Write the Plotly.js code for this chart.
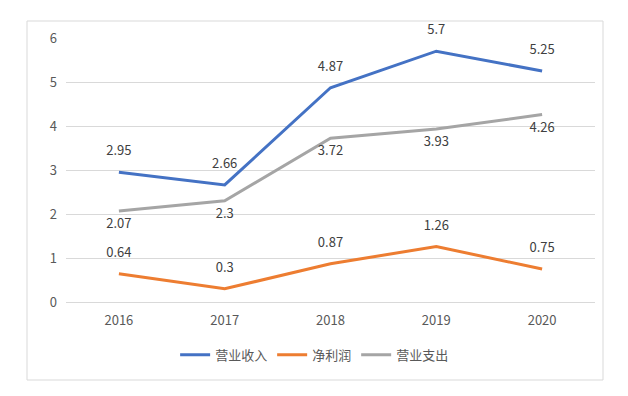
<!DOCTYPE html>
<html>
<head>
<meta charset="utf-8">
<script src="https://cdn.plot.ly/plotly-3.0.1.min.js"></script>
<style>html,body{margin:0;padding:0;background:#fff;}#chart{width:628px;height:396px;}</style>
</head>
<body>
<div id="chart"></div>
<script>
var years = ['2016', '2017', '2018', '2019', '2020'];
var revenue = [2.95, 2.66, 4.87, 5.7, 5.25];
var netProfit = [0.64, 0.3, 0.87, 1.26, 0.75];
var expense = [2.07, 2.3, 3.72, 3.93, 4.26];
var names = ['营业收入', '净利润', '营业支出'];
var colors = ['#4472C4', '#ED7D31', '#A5A5A5'];
var series = [revenue, netProfit, expense];
var labelPos = ['top center', 'top center', 'bottom center'];
var labelGap = [20, 20, 10];

var font = '"Microsoft YaHei", "Noto Sans CJK SC", sans-serif';
var traces = series.map(function (vals, i) {
  return {
    x: years, y: vals, type: 'scatter', mode: 'lines', name: names[i],
    line: {color: colors[i], width: 3}, hoverinfo: 'none'
  };
});
series.forEach(function (vals, i) {
  traces.push({
    x: years, y: vals, type: 'scatter', mode: 'markers+text', showlegend: false,
    text: vals.map(String), textposition: labelPos[i],
    textfont: {family: font, size: 13, color: '#404040'},
    marker: {size: labelGap[i], opacity: 0}, hoverinfo: 'none', cliponaxis: false
  });
});

var layout = {
  width: 628, height: 396,
  margin: {l: 66, r: 33, t: 38, b: 94},
  paper_bgcolor: '#ffffff', plot_bgcolor: '#ffffff',
  font: {family: font, size: 12, color: '#595959'},
  showlegend: true,
  legend: {orientation: 'h', x: 0.47, xanchor: 'center', y: -0.2, yanchor: 'middle',
    font: {family: font, size: 13, color: '#595959'}},
  xaxis: {type: 'category', range: [-0.5, 4.5], showgrid: false, zeroline: false,
    showline: true, linecolor: '#D9D9D9', linewidth: 1, ticks: '',
    tickfont: {family: font, size: 13, color: '#595959'}, ticklabelstandoff: 6, fixedrange: true},
  yaxis: {range: [0, 6], dtick: 1, tick0: 0, showgrid: true, gridcolor: '#D9D9D9', gridwidth: 1,
    zeroline: false, showline: false, ticks: '',
    tickfont: {family: font, size: 13, color: '#595959'}, ticklabelstandoff: 8, fixedrange: true},
  shapes: [{type: 'rect', xref: 'paper', yref: 'paper',
    x0: (27 - 66) / 529, x1: (603 - 66) / 529, y0: (302 - 380) / 264, y1: (302 - 21) / 264,
    line: {color: '#D9D9D9', width: 1}, fillcolor: 'rgba(0,0,0,0)', layer: 'below'}]
};

Plotly.newPlot('chart', traces, layout, {displayModeBar: false, staticPlot: true});
</script>
</body>
</html>
